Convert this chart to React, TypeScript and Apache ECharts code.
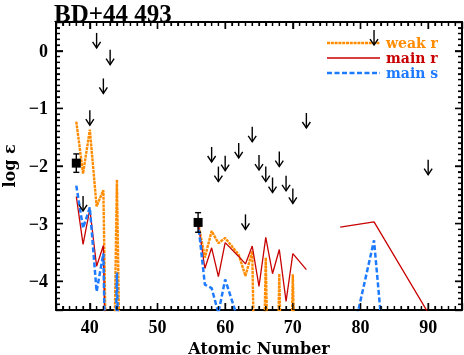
import React, { useEffect, useRef } from 'react';
import * as echarts from 'echarts';

// ---- data (atomic number Z, log epsilon) ----
// null marks a break in the curve; -10 marks "far below the plotted range"
const weakRZ = [38, 39, 40, 41, 42, 43, 44, 45, 50, 56, 57, 58, 59, 60, 62, 63, 64, 65, 66, 67, 68, 69, 70, 71];
const weakRVal = [-1.23, -2.13, -1.37, -2.70, -2.42, -10, -2.24, -10, null, -2.98, -3.59, -3.13, -3.34, -3.25, -3.54, -3.91, -3.48, -10, -3.59, -10, -3.87, -10, -3.88, -10];

const mainRZ = [38, 39, 40, 41, 42, 43, 50, 56, 57, 58, 59, 60, 62, 63, 64, 65, 66, 67, 68, 69, 70, 72, 74, 77, 82, 90];
const mainRVal = [-2.53, -3.36, -2.75, -3.74, -3.38, -10, null, -2.98, -3.78, -3.42, -3.92, -3.33, -3.57, -3.70, -3.39, -4.09, -3.24, -3.87, -3.45, -4.35, -3.52, -3.80, null, -3.06, -2.97, -4.55];

const mainSZ = [38, 39, 40, 41, 42, 43, 44, 45, 50, 56, 57, 58, 59, 60, 62, 63, 70, 79, 82, 83];
const mainSVal = [-2.34, -3.08, -2.72, -4.18, -3.52, -10, -3.85, -10, null, -2.98, -4.06, -4.12, -4.55, -3.97, -4.70, -6, null, -4.86, -3.29, -4.60];

// upper limits (arrow tops)
const limitZ = [39, 40, 41, 42, 43, 58, 59, 60, 62, 63, 64, 65, 66, 67, 68, 69, 70, 72, 82, 90];
const limitVal = [-2.52, -1.03, 0.31, -0.48, 0.02, -1.67, -2.01, -1.82, -1.60, -2.84, -1.32, -1.81, -2.01, -2.20, -1.75, -2.17, -2.39, -1.08, 0.36, -1.89];

// observed abundances with errors
const obsZ = [38, 56];
const obsVal = [-1.95, -2.98];
const obsErr = [0.16, 0.17];

// axis ranges
const X_MIN = 35, X_MAX = 95;
const Y_MIN = -4.5, Y_MAX = 0.5;

const seriesNames = ['weak r', 'main r', 'main s'];
const ORANGE = '#ff8c00';
const RED = '#c80000';
const BLUE = '#1e7bff';

const SERIF = '"Liberation Serif", "Times New Roman", serif';
const SERIF_WIDE = '"DejaVu Serif", serif';

const ORANGE_DASH = [3, 0.8];
const BLUE_DASH = [5, 2.5];

function segments(z: number[], v: (number | null)[]) {
  const segs: number[][][] = [];
  let cur: number[][] = [];
  z.forEach((x, i) => {
    const val = v[i];
    if (val === null) {
      if (cur.length) segs.push(cur);
      cur = [];
    } else cur.push([x, val]);
  });
  if (cur.length) segs.push(cur);
  return segs;
}

export default function App() {
  const ref = useRef<HTMLDivElement>(null);
  useEffect(() => {
    const chart = echarts.init(ref.current as HTMLDivElement, null, { renderer: 'svg' });
    const frame = () => ({ show: true, onZero: false, lineStyle: { color: '#000', width: 2 } });
    const tick = () => ({ show: true, inside: true, length: 7, lineStyle: { color: '#000', width: 1.4 } });
    const minor = () => ({ show: true, splitNumber: 10, length: 4, lineStyle: { color: '#000', width: 1.2 } });
    const tickLabel = () => ({
      color: '#000', fontFamily: SERIF, fontWeight: 'bold', fontSize: 18,
      showMinLabel: false, showMaxLabel: false,
    });
    const nameStyle = { color: '#000', fontFamily: SERIF_WIDE, fontWeight: 'bold', fontSize: 16 };

    const legendColors = [ORANGE, RED, BLUE];
    const legendWidths = [2.4, 1.3, 2.5];
    const legendDash: any[] = [ORANGE_DASH, null, BLUE_DASH];
    const legendChildren: any[] = [];
    seriesNames.forEach((n, i) => {
      const y = 43 + i * 15;
      legendChildren.push({
        type: 'line', shape: { x1: 327, y1: y, x2: 380, y2: y },
        style: { stroke: legendColors[i], lineWidth: legendWidths[i], lineDash: legendDash[i] || undefined },
      });
      legendChildren.push({
        type: 'text', x: 386, y: y, style: {
          text: n, fill: legendColors[i], font: `bold 14px ${SERIF_WIDE}`, textVerticalAlign: 'middle', textAlign: 'left',
        },
      });
    });

    const lineSeries: any[] = [];
    const models = [
      { z: weakRZ, v: weakRVal, style: { color: ORANGE, width: 2.4, type: ORANGE_DASH }, zz: 2 },
      { z: mainRZ, v: mainRVal, style: { color: RED, width: 1.3 }, zz: 3 },
      { z: mainSZ, v: mainSVal, style: { color: BLUE, width: 2.5, type: BLUE_DASH }, zz: 4 },
    ];
    models.forEach((m, i) => {
      segments(m.z, m.v).forEach((seg) => {
        lineSeries.push({
          name: seriesNames[i], type: 'line', symbol: 'none', data: seg,
          lineStyle: m.style, itemStyle: { color: m.style.color }, z: m.zz,
        });
      });
    });

    // frame ticks on all four sides (inward), drawn through the axes' own scale
    const frameTicks = {
      type: 'custom', name: 'frame ticks', silent: true, z: 10, clip: false,
      data: [[(X_MIN + X_MAX) / 2, (Y_MIN + Y_MAX) / 2]],
      renderItem: (params: any, api: any) => {
        const children: any[] = [];
        const st = { stroke: '#000', lineWidth: 1.3 };
        const yb = api.coord([X_MIN, Y_MIN])[1];
        const yt = api.coord([X_MIN, Y_MAX])[1];
        const xl = api.coord([X_MIN, Y_MIN])[0];
        const xr = api.coord([X_MAX, Y_MIN])[0];
        for (let z = X_MIN + 1; z < X_MAX; z++) {
          const x = api.coord([z, Y_MIN])[0];
          const len = z % 10 === 0 ? 7 : 4;
          children.push({ type: 'line', shape: { x1: x, y1: yb, x2: x, y2: yb - len }, style: st });
          children.push({ type: 'line', shape: { x1: x, y1: yt, x2: x, y2: yt + len }, style: st });
        }
        for (let k = Math.round(Y_MIN * 10) + 1; k < Math.round(Y_MAX * 10); k++) {
          const y = api.coord([X_MIN, k / 10])[1];
          const len = k % 10 === 0 ? 7 : 4;
          children.push({ type: 'line', shape: { x1: xl, y1: y, x2: xl + len, y2: y }, style: st });
          children.push({ type: 'line', shape: { x1: xr, y1: y, x2: xr - len, y2: y }, style: st });
        }
        return { type: 'group', children };
      },
    };

    chart.setOption({
      animation: false,
      title: {
        text: 'BD+44 493', left: 54, top: 1, padding: 0,
        textStyle: { color: '#000', fontFamily: SERIF, fontWeight: 'bold', fontSize: 25 },
      },
      grid: { left: 56, right: 2, top: 22, bottom: 45, outerBoundsMode: 'none' },
      graphic: [{ type: 'group', silent: true, children: legendChildren }],
      xAxis: [
        {
          type: 'value', min: X_MIN, max: X_MAX, position: 'bottom',
          axisLine: frame(), axisTick: tick(), minorTick: minor(), splitLine: { show: false },
          axisLabel: { ...tickLabel(), margin: 8 },
          name: 'Atomic Number', nameLocation: 'middle', nameGap: 20, nameTextStyle: nameStyle,
        },
        {
          type: 'value', min: X_MIN, max: X_MAX, position: 'top',
          axisLine: frame(), axisTick: tick(), minorTick: minor(), splitLine: { show: false },
          axisLabel: { show: false },
        },
      ],
      yAxis: [
        {
          type: 'value', min: Y_MIN, max: Y_MAX, position: 'left',
          axisLine: frame(), axisTick: tick(), minorTick: minor(), splitLine: { show: false },
          axisLabel: { ...tickLabel(), margin: 8, formatter: (v: number) => String(v).replace('-', '\u2212') },
          name: 'log \u03b5', nameLocation: 'middle', nameGap: 36, nameTextStyle: nameStyle,
        },
        {
          type: 'value', min: Y_MIN, max: Y_MAX, position: 'right',
          axisLine: frame(), axisTick: tick(), minorTick: minor(), splitLine: { show: false },
          axisLabel: { show: false },
        },
      ],
      series: [
        ...lineSeries,
        {
          type: 'custom', name: 'limits', silent: true, z: 5,
          data: limitZ.map((z, i) => [z, limitVal[i]]),
          renderItem: (params: any, api: any) => {
            const p = api.coord([api.value(0), api.value(1)]);
            return {
              type: 'group',
              children: [
                { type: 'line', shape: { x1: p[0], y1: p[1], x2: p[0], y2: p[1] + 15 }, style: { stroke: '#000', lineWidth: 1.4 } },
                {
                  type: 'polyline',
                  shape: { points: [[p[0] - 4, p[1] + 9], [p[0], p[1] + 15], [p[0] + 4, p[1] + 9]] },
                  style: { stroke: '#000', lineWidth: 1.4, fill: 'none' },
                },
              ],
            };
          },
        },
        {
          type: 'custom', name: 'observed', silent: true, z: 6,
          data: obsZ.map((z, i) => [z, obsVal[i]]),
          renderItem: (params: any, api: any) => {
            const x = api.value(0), y = api.value(1), e = obsErr[params.dataIndex];
            const c = api.coord([x, y]);
            const hi = api.coord([x, y + e]);
            const lo = api.coord([x, y - e]);
            const st = { stroke: '#000', lineWidth: 1.4 };
            return {
              type: 'group',
              children: [
                { type: 'line', shape: { x1: c[0], y1: hi[1], x2: c[0], y2: lo[1] }, style: st },
                { type: 'line', shape: { x1: c[0] - 3, y1: hi[1], x2: c[0] + 3, y2: hi[1] }, style: st },
                { type: 'line', shape: { x1: c[0] - 3, y1: lo[1], x2: c[0] + 3, y2: lo[1] }, style: st },
                { type: 'rect', shape: { x: c[0] - 4.5, y: c[1] - 4.5, width: 9, height: 9 }, style: { fill: '#000' } },
              ],
            };
          },
        },
        frameTicks,
      ],
    });
    return () => chart.dispose();
  }, []);
  return <div ref={ref} style={{ position: 'fixed', left: 0, top: 0, width: 464, height: 355 }} />;
}
